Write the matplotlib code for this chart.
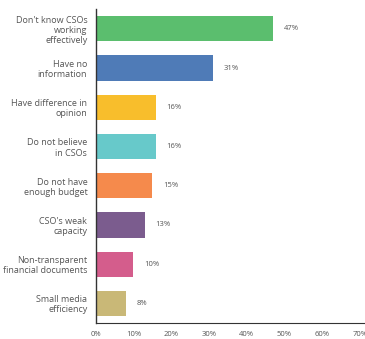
import matplotlib.pyplot as plt

categories = ["Don't know CSOs\nworking\neffectively", "Have no\ninformation",
              "Have difference in\nopinion", "Do not believe\nin CSOs",
              "Do not have\nenough budget", "CSO's weak\ncapacity",
              "Non-transparent\nfinancial documents", "Small media\nefficiency"]
values = [47, 31, 16, 16, 15, 13, 10, 8]
colors = ['#5BBE6E', '#4F7BB7', '#F8BE2C', '#67C9CA', '#F58A4C', '#7B5C8E', '#D45D8C', '#C9B877']
xticks = [0, 10, 20, 30, 40, 50, 60, 70]

plt.rcParams['font.family'] = ['Open Sans', 'DejaVu Sans']
text_color = '#555555'

fig = plt.figure(figsize=(3.65, 3.39), dpi=100)
ax = fig.add_axes([0.262, 0.047, 0.724, 0.926])

y = list(range(len(categories)))
ax.barh(y, values, height=0.64, color=colors)
for yi, v in zip(y, values):
    ax.text(v + 2.8, yi, f'{v}%', va='center', ha='left', fontsize=5.5, color=text_color)

ax.set_ylim(7.5, -0.5)
ax.set_xlim(0, 70)
ax.set_yticks(y)
ax.set_yticklabels(categories, fontsize=6.5, color=text_color, linespacing=1.15)
ax.set_xticks(xticks)
ax.set_xticklabels([f'{t}%' for t in xticks], fontsize=5.5, color=text_color)
ax.tick_params(length=0, axis='y', pad=6)
ax.tick_params(length=0, axis='x', pad=6)
for s in ['top', 'right']:
    ax.spines[s].set_visible(False)
ax.spines['left'].set_color('#333333')
ax.spines['bottom'].set_color('#333333')
ax.spines['left'].set_linewidth(1.0)
ax.spines['bottom'].set_linewidth(0.8)
ax.spines['bottom'].set_bounds(0, 72)

fig.savefig('out.png', dpi=100)
